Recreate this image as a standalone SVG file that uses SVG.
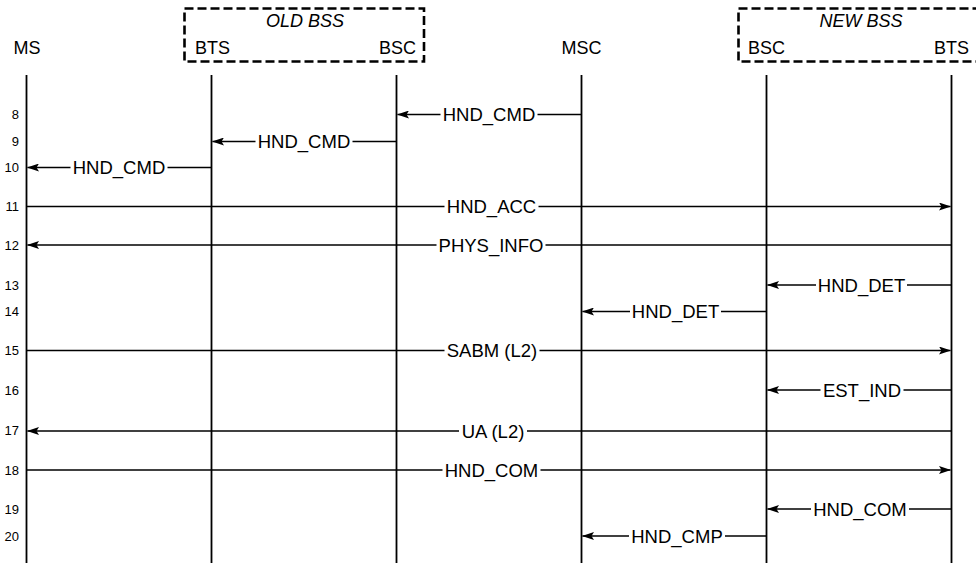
<svg xmlns="http://www.w3.org/2000/svg" width="976" height="565" viewBox="0 0 976 565">
<style>
text{font-family:"Liberation Sans",Arial,sans-serif;fill:#000}
.hdr{font-size:18px;text-anchor:middle}
.grp{font-size:18px;font-style:italic;text-anchor:middle}
.num{font-size:13px;text-anchor:end}
.lbl{font-size:18.5px;text-anchor:middle}
.box{fill:none;stroke:#000;stroke-width:2.6;stroke-dasharray:9,4}
.life{stroke:#000;stroke-width:1.8}
.msg{stroke:#000;stroke-width:1.6;fill:none;marker-end:url(#ah)}
.bg{fill:#fff}
</style>
<defs>
<marker id="ah" viewBox="0 0 12 8" refX="11.5" refY="4" markerWidth="12" markerHeight="8" markerUnits="userSpaceOnUse" orient="auto">
<path d="M0,0 L12,4 L0,8 L2.5,4 z" fill="#000"/>
</marker>
</defs>
<rect width="976" height="565" fill="#fff"/>
<g id="old-bss">
<rect class="box" x="184.5" y="8.5" width="239.5" height="53"/>
<text class="grp" x="305" y="27">OLD BSS</text>
</g>
<g id="new-bss">
<rect class="box" x="738.5" y="8.5" width="246" height="53"/>
<text class="grp" x="861" y="27">NEW BSS</text>
</g>
<g id="ms"><text class="hdr" x="27" y="54">MS</text><line class="life" x1="26.5" y1="75" x2="26.5" y2="563"/></g>
<g id="old-bts"><text class="hdr" x="212.5" y="54">BTS</text><line class="life" x1="211.5" y1="75" x2="211.5" y2="563"/></g>
<g id="old-bsc"><text class="hdr" x="397.5" y="54">BSC</text><line class="life" x1="396.5" y1="75" x2="396.5" y2="563"/></g>
<g id="msc"><text class="hdr" x="581.5" y="54">MSC</text><line class="life" x1="581.5" y1="75" x2="581.5" y2="563"/></g>
<g id="new-bsc"><text class="hdr" x="766.5" y="54">BSC</text><line class="life" x1="766.5" y1="75" x2="766.5" y2="563"/></g>
<g id="new-bts"><text class="hdr" x="951.5" y="54">BTS</text><line class="life" x1="951.5" y1="75" x2="951.5" y2="563"/></g>
<g id="steps">
<text class="num" x="19" y="119">8</text>
<text class="num" x="19" y="146">9</text>
<text class="num" x="19" y="172">10</text>
<text class="num" x="19" y="211">11</text>
<text class="num" x="19" y="250">12</text>
<text class="num" x="19" y="290">13</text>
<text class="num" x="19" y="316">14</text>
<text class="num" x="19" y="355">15</text>
<text class="num" x="19" y="395">16</text>
<text class="num" x="19" y="435">17</text>
<text class="num" x="19" y="475">18</text>
<text class="num" x="19" y="514">19</text>
<text class="num" x="19" y="541">20</text>
</g>
<g id="connectors">
<line class="msg" x1="581.5" y1="114.5" x2="397.5" y2="114.5"/>
<rect class="bg" x="440.5" y="104" width="97" height="22"/><text class="lbl" x="489" y="121">HND_CMD</text>
<line class="msg" x1="396.5" y1="141.5" x2="212.5" y2="141.5"/>
<rect class="bg" x="255.5" y="131" width="97" height="22"/><text class="lbl" x="304" y="148">HND_CMD</text>
<line class="msg" x1="211.5" y1="167.5" x2="27.5" y2="167.5"/>
<rect class="bg" x="70.5" y="157" width="97" height="22"/><text class="lbl" x="119" y="174">HND_CMD</text>
<line class="msg" x1="26.5" y1="206.5" x2="950.5" y2="206.5"/>
<rect class="bg" x="444.5" y="196" width="94" height="22"/><text class="lbl" x="491.5" y="213">HND_ACC</text>
<line class="msg" x1="951.5" y1="245" x2="27.5" y2="245"/>
<rect class="bg" x="436.5" y="234" width="109" height="22"/><text class="lbl" x="491" y="251.5">PHYS_INFO</text>
<line class="msg" x1="951.5" y1="285" x2="767.5" y2="285"/>
<rect class="bg" x="816" y="274" width="91" height="22"/><text class="lbl" x="861.5" y="291.5">HND_DET</text>
<line class="msg" x1="766.5" y1="311.5" x2="582.5" y2="311.5"/>
<rect class="bg" x="630" y="301" width="91" height="22"/><text class="lbl" x="675.5" y="318">HND_DET</text>
<line class="msg" x1="26.5" y1="350.5" x2="950.5" y2="350.5"/>
<rect class="bg" x="444.5" y="340" width="95" height="22"/><text class="lbl" x="492" y="357">SABM (L2)</text>
<line class="msg" x1="951.5" y1="390" x2="767.5" y2="390"/>
<rect class="bg" x="820.5" y="379" width="83" height="22"/><text class="lbl" x="862" y="396.5">EST_IND</text>
<line class="msg" x1="951.5" y1="431" x2="27.5" y2="431"/>
<rect class="bg" x="459" y="420" width="68" height="22"/><text class="lbl" x="493" y="437.5">UA (L2)</text>
<line class="msg" x1="26.5" y1="470" x2="950.5" y2="470"/>
<rect class="bg" x="442.5" y="459" width="98" height="22"/><text class="lbl" x="491.5" y="476.5">HND_COM</text>
<line class="msg" x1="951.5" y1="509" x2="767.5" y2="509"/>
<rect class="bg" x="811" y="498" width="98" height="22"/><text class="lbl" x="860" y="515.5">HND_COM</text>
<line class="msg" x1="766.5" y1="536" x2="582.5" y2="536"/>
<rect class="bg" x="629" y="525" width="96" height="22"/><text class="lbl" x="677" y="542.5">HND_CMP</text>
</g>
</svg>
